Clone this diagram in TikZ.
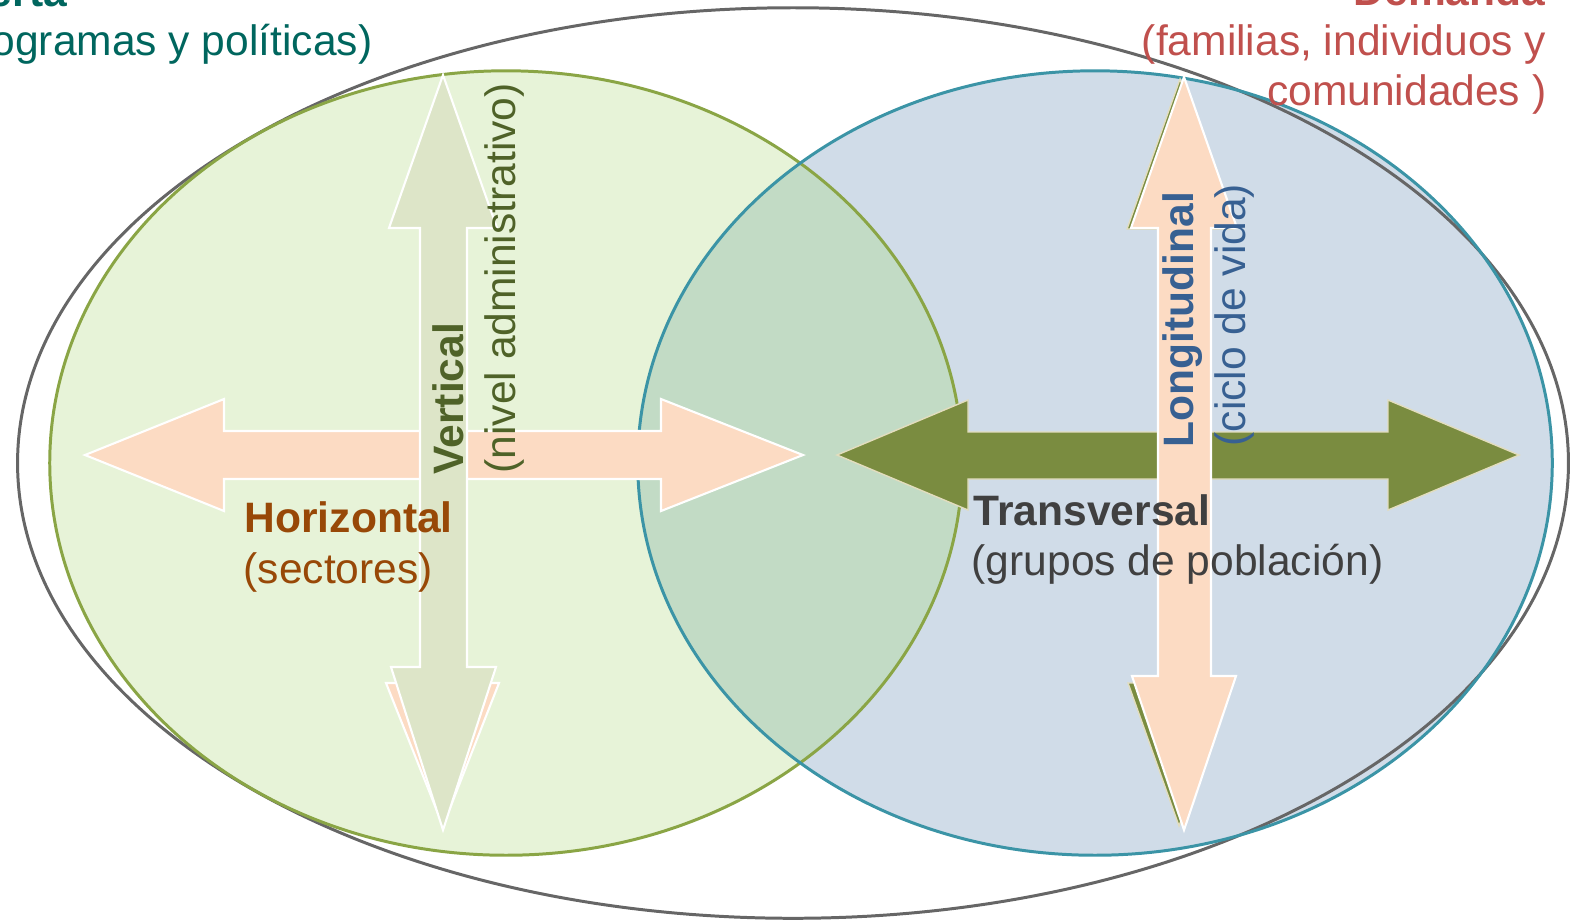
\documentclass[tikz,border=0pt]{standalone}
\usepackage{fontspec}
\setmainfont{Liberation Sans}

\definecolor{ofertagreen}{HTML}{E7F3D8}
\definecolor{ofertaline}{HTML}{8AA545}
\definecolor{demandablue}{HTML}{D0DCE8}
\definecolor{demandaline}{HTML}{3B94A6}
\definecolor{overlapfill}{HTML}{C2DBC5}
\definecolor{outerline}{HTML}{666666}
\definecolor{arrowpeach}{HTML}{FCDBC3}
\definecolor{arrowpale}{HTML}{DDE5C8}
\definecolor{arrowolive}{HTML}{7A8C40}
\definecolor{olivetrim}{HTML}{E2DDBE}
\definecolor{ofertatext}{HTML}{00665E}
\definecolor{demandatext}{HTML}{C0504D}
\definecolor{horiztext}{HTML}{984807}
\definecolor{verttext}{HTML}{4F6228}
\definecolor{longtext}{HTML}{376092}
\definecolor{transtext}{HTML}{404040}

\newcommand{\lblsize}{\fontsize{12.1pt}{14.2pt}\selectfont}

\tikzset{
  lbl/.style={inner sep=0pt, font=\lblsize},
  lblbold/.style={inner sep=0pt, font=\lblsize\bfseries},
  peacharrow/.style={fill=arrowpeach, draw=white, line width=0.6pt, line join=miter},
  palearrow/.style={fill=arrowpale, draw=white, line width=0.6pt, line join=miter},
  olivearrow/.style={fill=arrowolive, draw=olivetrim, line width=0.4pt, line join=miter}
}

\begin{document}
\begin{tikzpicture}[x=0.01cm, y=-0.01cm]
  \useasboundingbox (0,0) rectangle (1570,923);
  \coordinate (O) at (506,463);
  \coordinate (D) at (1095,463);
  \coordinate (M) at (793,463);

  \fill[ofertagreen] (O) ellipse [x radius=4.56cm, y radius=3.92cm];
  \fill[demandablue] (D) ellipse [x radius=4.57cm, y radius=3.92cm];
  \begin{scope}
    \clip (O) ellipse [x radius=4.56cm, y radius=3.92cm];
    \fill[overlapfill] (D) ellipse [x radius=4.57cm, y radius=3.92cm];
  \end{scope}
  \draw[outerline, line width=0.85pt] (M) ellipse [x radius=7.75cm, y radius=4.55cm];
  \draw[ofertaline, line width=0.85pt] (O) ellipse [x radius=4.56cm, y radius=3.92cm];
  \draw[demandaline, line width=0.85pt] (D) ellipse [x radius=4.57cm, y radius=3.92cm];

  \draw[peacharrow]
  (85,455) -- (224,399) -- (224,431) -- (661,431) -- (661,399) -- (803,455)
  -- (661,511) -- (661,479) -- (224,479) -- (224,511) -- cycle;
  \draw[peacharrow] (386,683) -- (499,683) -- (443,826) -- cycle;
  \draw[palearrow]
  (443,75) -- (497,228) -- (467,228) -- (467,667) -- (496,667) -- (443,830)
  -- (391,667) -- (420,667) -- (420,228) -- (389,228) -- cycle;

  \draw[olivearrow]
  (837,455) -- (968,400) -- (968,432) -- (1388,432) -- (1388,400) -- (1519,455)
  -- (1388,510) -- (1388,479) -- (968,479) -- (968,510) -- cycle;
  \draw[olivearrow] (1127,229) -- (1233,229) -- (1180,79) -- cycle;
  \draw[olivearrow] (1128,683) -- (1232,683) -- (1179,826) -- cycle;
  \draw[peacharrow]
  (1184,77) -- (1237,228) -- (1211,228) -- (1211,676) -- (1236,676) -- (1184,830)
  -- (1132,676) -- (1158,676) -- (1158,228) -- (1131,228) -- cycle;

  \node[lblbold, text=ofertatext, anchor=base west] (of1) at (-59,6) {Oferta};
  \node[lbl, text=ofertatext, anchor=base east] (of2) at (373,55) {(programas y políticas)};
  \node[lblbold, text=demandatext, anchor=base east] (de1) at (1546,5) {Demanda};
  \node[lbl, text=demandatext, anchor=base east] (de2) at (1547,55) {(familias, individuos y};
  \node[lbl, text=demandatext, anchor=base east] (de3) at (1547,105) {comunidades )};

  \node[lblbold, text=horiztext, anchor=base west] (ho1) at (244,532) {Horizontal};
  \node[lbl, text=horiztext, anchor=base west] (ho2) at (243,583) {(sectores)};
  \node[lblbold, text=transtext, anchor=base west] (tr1) at (973,525) {Transversal};
  \node[lbl, text=transtext, anchor=base west] (tr2) at (971,575) {(grupos de población)};

  \node[lblbold, text=verttext, anchor=base west, rotate=90] (ve1) at (463,475) {Vertical};
  \node[lbl, text=verttext, anchor=base west, rotate=90] (ve2) at (515,474) {(nivel administrativo)};
  \node[lblbold, text=longtext, anchor=base west, rotate=90] (lo1) at (1193,448) {Longitudinal};
  \node[lbl, text=longtext, anchor=base west, rotate=90] (lo2) at (1245,447) {(ciclo de vida)};
\end{tikzpicture}
\end{document}
